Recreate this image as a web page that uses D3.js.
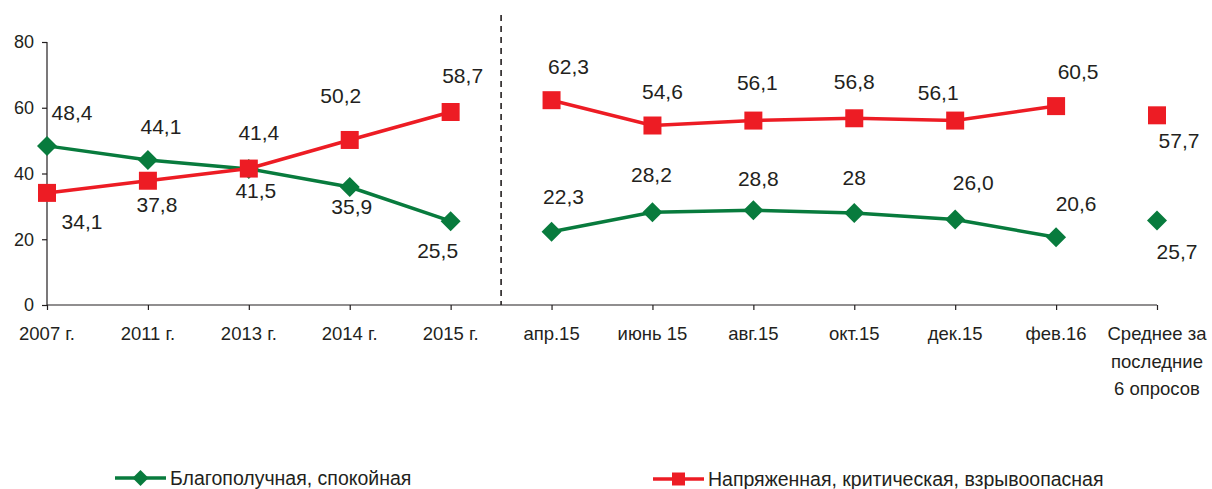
<!DOCTYPE html>
<html>
<head>
<meta charset="utf-8">
<script src="https://cdn.jsdelivr.net/npm/d3@7"></script>
<style>
  body { margin: 0; background: #fff; }
  svg { font-family: "Liberation Sans", Arial, sans-serif; }
</style>
</head>
<body>
<div id="chart"></div>
<script>
// categories on the x axis (last one is wrapped on three lines)
var categories = ["2007 г.", "2011 г.", "2013 г.", "2014 г.", "2015 г.",
                  "апр.15", "июнь 15", "авг.15", "окт.15", "дек.15", "фев.16",
                  "Среднее за|последние|6 опросов"];

// which connected piece of the line every point belongs to
var segment = [0, 0, 0, 0, 0, 1, 1, 1, 1, 1, 1, 2];

var calmValues = [48.4, 44.1, 41.4, 35.9, 25.5, 22.3, 28.2, 28.8, 28, 26.0, 20.6, 25.7];
var calmLabels = ["48,4", "44,1", "41,4", "35,9", "25,5", "22,3", "28,2", "28,8", "28", "26,0", "20,6", "25,7"];

var tenseValues = [34.1, 37.8, 41.5, 50.2, 58.7, 62.3, 54.6, 56.1, 56.8, 56.1, 60.5, 57.7];
var tenseLabels = ["34,1", "37,8", "41,5", "50,2", "58,7", "62,3", "54,6", "56,1", "56,8", "56,1", "60,5", "57,7"];

var yTicks = [0, 20, 40, 60, 80];

var seriesNames = ["Благополучная, спокойная", "Напряженная, критическая, взрывоопасная"];

// label placement relative to the marker (pixels), as in the original
var calmOffsets = [[25, -26], [13, -26], [10, -29], [2, 27], [-13, 37],
                   [12, -28], [-1, -30], [5, -24], [0, -28], [18, -30], [20, -26], [20, 38]];
var tenseOffsets = [[35, 36], [9, 31], [7, 29], [-9, -37], [12, -29],
                    [17, -26], [10, -27], [4, -31], [0, -29], [-17, -21], [22, -27], [22, 33]];

var GREEN = "#087b3d",
    RED = "#ed1c24",
    INK = "#231f20";

var width = 1212,
    height = 489;

var svg = d3.select("#chart")
  .append("svg")
  .attr("width", width)
  .attr("height", height);

var x = d3.scalePoint().domain(categories).range([47, 1157]),
    y = d3.scaleLinear().domain([0, 80]).range([305, 42]);

// y axis
var yAxis = svg.append("g")
  .attr("transform", "translate(47,0)")
  .call(d3.axisLeft(y).tickValues(yTicks).tickSize(5).tickPadding(8).tickFormat(d3.format("d")));
yAxis.select(".domain").attr("stroke", INK).attr("stroke-width", 1.2).attr("d", "M0,42V305");
yAxis.selectAll(".tick line").attr("stroke", INK).attr("stroke-width", 1.2);
yAxis.selectAll(".tick text").attr("fill", INK).style("font-size", "18px");

// x axis
var xAxis = svg.append("g")
  .attr("transform", "translate(0,305)")
  .call(d3.axisBottom(x).tickSize(5).tickPadding(12).tickFormat(""));
xAxis.select(".domain").attr("stroke", INK).attr("stroke-width", 1.2).attr("d", "M47,0H1157");
xAxis.selectAll(".tick line").attr("stroke", INK).attr("stroke-width", 1.2);
xAxis.selectAll(".tick text").remove();

// category labels, split on "|"
var xLabels = svg.append("g")
  .attr("fill", INK)
  .style("font-size", "18.5px")
  .attr("text-anchor", "middle");
categories.forEach(function(c) {
  var t = xLabels.append("text").attr("x", x(c)).attr("y", 340);
  c.split("|").forEach(function(part, i) {
    t.append("tspan").attr("x", x(c)).attr("dy", i == 0 ? 0 : 27.5).text(part);
  });
});

// dashed separator between years and monthly polls
var sepX = (x(categories[4]) + x(categories[5])) / 2;
svg.append("line")
  .attr("x1", sepX).attr("x2", sepX)
  .attr("y1", 15).attr("y2", 305)
  .attr("stroke", INK)
  .attr("stroke-width", 1.6)
  .attr("stroke-dasharray", "6,5");

/**
 * Draw one series: lines per segment, markers and value labels.
 */
function drawSeries(values, labels, offsets, color, shape) {
  var pts = values.map(function(v, i) {
    return {x: x(categories[i]), y: y(v), seg: segment[i], label: labels[i], off: offsets[i]};
  });
  var groups = d3.groups(pts, function(d) { return d.seg; });
  var line = d3.line().x(function(d) { return d.x; }).y(function(d) { return d.y; });

  var g = svg.append("g");
  groups.forEach(function(gr) {
    if (gr[1].length < 2) return;
    g.append("path")
      .attr("d", line(gr[1]))
      .attr("fill", "none")
      .attr("stroke", color)
      .attr("stroke-width", 3.5);
  });

  g.selectAll("path.marker")
    .data(pts)
    .enter().append("path")
    .attr("class", "marker")
    .attr("transform", function(d) { return "translate(" + d.x + "," + d.y + ")"; })
    .attr("d", shape)
    .attr("fill", color);

  g.selectAll("text")
    .data(pts)
    .enter().append("text")
    .attr("x", function(d) { return d.x + d.off[0]; })
    .attr("y", function(d) { return d.y + d.off[1]; })
    .attr("text-anchor", "middle")
    .attr("fill", INK)
    .style("font-size", "21px")
    .text(function(d) { return d.label; });
}

function diamond(r) { return "M0," + (-r) + "L" + r + ",0L0," + r + "L" + (-r) + ",0Z"; }
function square(h) { return "M" + (-h) + "," + (-h) + "H" + h + "V" + h + "H" + (-h) + "Z"; }

drawSeries(calmValues, calmLabels, calmOffsets, GREEN, diamond(10));
drawSeries(tenseValues, tenseLabels, tenseOffsets, RED, square(9));

// legend
var legend = [
  {name: seriesNames[0], color: GREEN, shape: diamond(8), x: 115, y: 478},
  {name: seriesNames[1], color: RED, shape: square(6.5), x: 653, y: 479}
];
legend.forEach(function(l) {
  var g = svg.append("g").attr("transform", "translate(" + l.x + "," + l.y + ")");
  g.append("line").attr("x1", 0).attr("x2", 51).attr("stroke", l.color).attr("stroke-width", 3.5);
  g.append("path").attr("transform", "translate(25.5,0)").attr("d", l.shape).attr("fill", l.color);
  g.append("text")
    .attr("x", 55).attr("y", 7)
    .attr("fill", INK)
    .style("font-size", "19.5px")
    .text(l.name);
});
</script>
</body>
</html>
